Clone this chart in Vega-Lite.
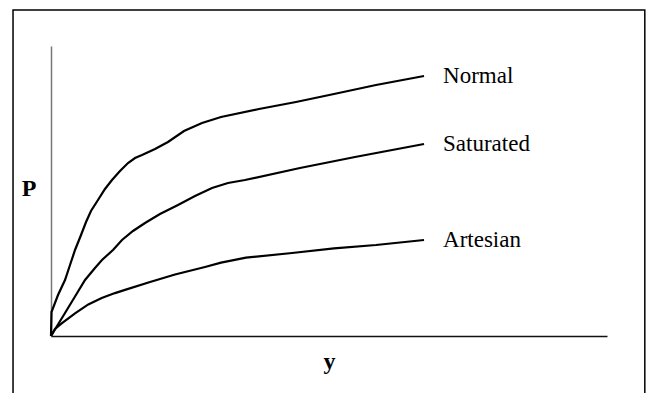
{
  "$schema": "https://vega.github.io/schema/vega-lite/v6.json",
  "width": 556,
  "height": 290,
  "autosize": {"type": "none"},
  "padding": {"left": 51, "top": 46, "right": 44, "bottom": 57},
  "background": "white",
  "config": {"view": {"stroke": null}, "font": "Liberation Serif"},
  "datasets": {
    "curves": [
      {"series": "Normal", "x": 0, "p": 0},
      {"series": "Normal", "x": 0.09, "p": 8.28},
      {"series": "Normal", "x": 1.26, "p": 14.14},
      {"series": "Normal", "x": 2.52, "p": 19.31},
      {"series": "Normal", "x": 3.42, "p": 24.48},
      {"series": "Normal", "x": 4.32, "p": 29.66},
      {"series": "Normal", "x": 5.4, "p": 34.83},
      {"series": "Normal", "x": 6.3, "p": 39.31},
      {"series": "Normal", "x": 7.19, "p": 43.1},
      {"series": "Normal", "x": 8.45, "p": 46.9},
      {"series": "Normal", "x": 9.71, "p": 50.69},
      {"series": "Normal", "x": 10.97, "p": 53.79},
      {"series": "Normal", "x": 12.41, "p": 56.9},
      {"series": "Normal", "x": 13.85, "p": 59.66},
      {"series": "Normal", "x": 15.11, "p": 61.38},
      {"series": "Normal", "x": 16.37, "p": 62.41},
      {"series": "Normal", "x": 18.71, "p": 64.48},
      {"series": "Normal", "x": 21.04, "p": 66.9},
      {"series": "Normal", "x": 23.92, "p": 70.69},
      {"series": "Normal", "x": 27.16, "p": 73.45},
      {"series": "Normal", "x": 30.58, "p": 75.52},
      {"series": "Normal", "x": 37.41, "p": 78.28},
      {"series": "Normal", "x": 44.06, "p": 80.69},
      {"series": "Normal", "x": 50.9, "p": 83.45},
      {"series": "Normal", "x": 58.45, "p": 86.55},
      {"series": "Normal", "x": 67.09, "p": 89.66},
      {"series": "Saturated", "x": 0, "p": 0},
      {"series": "Saturated", "x": 0.9, "p": 2.83},
      {"series": "Saturated", "x": 2.52, "p": 7.93},
      {"series": "Saturated", "x": 4.32, "p": 13.62},
      {"series": "Saturated", "x": 6.12, "p": 19.31},
      {"series": "Saturated", "x": 7.91, "p": 23.45},
      {"series": "Saturated", "x": 9.17, "p": 26.21},
      {"series": "Saturated", "x": 11.15, "p": 29.66},
      {"series": "Saturated", "x": 12.77, "p": 33.1},
      {"series": "Saturated", "x": 14.75, "p": 36.21},
      {"series": "Saturated", "x": 16.91, "p": 38.97},
      {"series": "Saturated", "x": 19.6, "p": 42.07},
      {"series": "Saturated", "x": 22.84, "p": 45.17},
      {"series": "Saturated", "x": 25.9, "p": 48.28},
      {"series": "Saturated", "x": 28.96, "p": 51.03},
      {"series": "Saturated", "x": 31.83, "p": 52.76},
      {"series": "Saturated", "x": 34.89, "p": 53.79},
      {"series": "Saturated", "x": 44.78, "p": 57.93},
      {"series": "Saturated", "x": 54.68, "p": 61.72},
      {"series": "Saturated", "x": 67.09, "p": 66.21},
      {"series": "Artesian", "x": 0, "p": 0},
      {"series": "Artesian", "x": 0.72, "p": 2.41},
      {"series": "Artesian", "x": 1.92, "p": 4.38},
      {"series": "Artesian", "x": 4.32, "p": 7.83},
      {"series": "Artesian", "x": 6.71, "p": 10.9},
      {"series": "Artesian", "x": 9.12, "p": 13.1},
      {"series": "Artesian", "x": 11.51, "p": 14.8},
      {"series": "Artesian", "x": 13.31, "p": 15.9},
      {"series": "Artesian", "x": 17.81, "p": 18.6},
      {"series": "Artesian", "x": 22.3, "p": 21.2},
      {"series": "Artesian", "x": 27.7, "p": 23.79},
      {"series": "Artesian", "x": 30.58, "p": 25.3},
      {"series": "Artesian", "x": 35.07, "p": 27.0},
      {"series": "Artesian", "x": 43.35, "p": 28.62},
      {"series": "Artesian", "x": 50.9, "p": 30.2},
      {"series": "Artesian", "x": 58.45, "p": 31.38},
      {"series": "Artesian", "x": 67.09, "p": 33.1}
    ],
    "labels": [
      {"series": "Normal", "x": 67.09, "p": 89.66},
      {"series": "Saturated", "x": 67.09, "p": 66.21},
      {"series": "Artesian", "x": 67.09, "p": 33.1}
    ],
    "frame": [
      {"x1": -6.83, "x2": 106.8, "y1": -25, "y2": 112.4}
    ]
  },
  "encoding": {
    "x": {
      "field": "x", "type": "quantitative",
      "scale": {"domain": [0, 100], "nice": false},
      "axis": {
        "title": "y", "labels": false, "ticks": false, "grid": false,
        "domainColor": "#111111", "domainWidth": 1.5,
        "titleFont": "Liberation Serif", "titleFontSize": 24, "titleFontWeight": "bold",
        "titleColor": "#000000", "titlePadding": 13
      }
    },
    "y": {
      "field": "p", "type": "quantitative",
      "scale": {"domain": [0, 100], "nice": false},
      "axis": {
        "title": "P", "labels": false, "ticks": false, "grid": false,
        "domainColor": "#777777", "domainWidth": 1.5,
        "titleFont": "Liberation Serif", "titleFontSize": 24, "titleFontWeight": "bold",
        "titleColor": "#000000", "titleAngle": 0, "titleAlign": "center",
        "titleBaseline": "alphabetic", "titleX": -22.5, "titleY": 149
      }
    }
  },
  "layer": [
    {
      "data": {"name": "curves"},
      "mark": {"type": "line", "color": "#000000", "strokeWidth": 2.2, "interpolate": "linear"},
      "encoding": {
        "detail": {"field": "series"}
      }
    },
    {
      "data": {"name": "labels"},
      "mark": {"type": "text", "font": "Liberation Serif", "fontSize": 23, "color": "#000000", "align": "left", "baseline": "alphabetic", "dx": 19, "dy": 7},
      "encoding": {
        "text": {"field": "series"}
      }
    },
    {
      "data": {"name": "frame"},
      "mark": {"type": "rect", "fill": null, "stroke": "#000000", "strokeWidth": 1.5, "clip": false},
      "encoding": {
        "x": {"field": "x1", "type": "quantitative"},
        "x2": {"field": "x2"},
        "y": {"field": "y1", "type": "quantitative"},
        "y2": {"field": "y2"}
      }
    }
  ]
}
